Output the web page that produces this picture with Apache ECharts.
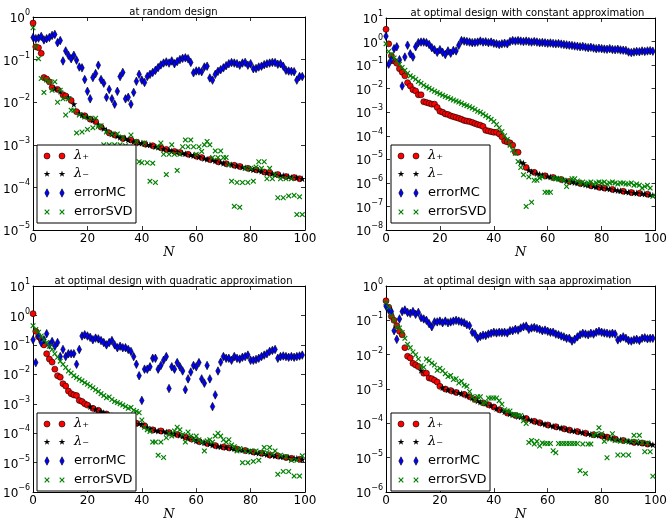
<!DOCTYPE html>
<html><head><meta charset="utf-8">
<script src="https://cdn.jsdelivr.net/npm/echarts@6/dist/echarts.min.js"></script>
<style>html,body{margin:0;padding:0;background:#fff}#c{width:670px;height:522px}</style>
</head><body><div id="c"></div>
<script>
const titles = ['at random design', 'at optimal design with constant approximation',
  'at optimal design with quadratic approximation', 'at optimal design with saa approximation'];
const xTicks = [0, 20, 40, 60, 80, 100];
const legendLabels = ['λ₊', 'λ₋', 'errorMC', 'errorSVD'];

// ---------- panel 1: random design ----------
const eig1 = [0.72,0.2,0.19,0.14,0.038,0.035,0.03,0.022,0.021,0.02,
 0.018,0.015,0.014,0.013,0.011,0.009,0.006,0.0055,0.005,0.0048,
 0.0045,0.004,0.0038,0.0035,0.003,0.0026,0.0024,0.0022,0.0019,0.0018,
 0.0017,0.0016,0.0015,0.0014,0.0014,0.0013,0.0013,0.0012,0.00115,0.0011,
 0.0011,0.00105,0.001,0.001,0.00095,0.0009,0.00088,0.00085,0.0008,0.00078,
 0.00075,0.00072,0.0007,0.00068,0.00066,0.00064,0.00062,0.0006,0.00058,0.00056,
 0.00054,0.00052,0.0005,0.00048,0.00046,0.00045,0.00044,0.00042,0.0004,0.00039,
 0.00037,0.00036,0.00035,0.00034,0.00033,0.00032,0.00031,0.0003,0.00029,0.00028,
 0.00027,0.00026,0.00026,0.00025,0.00024,0.00023,0.00022,0.00022,0.00021,0.0002,
 0.0002,0.00019,0.00019,0.00018,0.00018,0.00017,0.00017,0.00017,0.00016,0.00016];
const sign1 = '++++++++-+' + '-++-+-+--+' + '-+-+-+--+-' + '+--+--+-+-' + '-+--+--+-+' +
              '--+-+--+--' + '+-+--+--+-' + '-+--+-+--+' + '--+--+-+--' + '+--+--+-+-';
const mc1 = [0.33,0.31,0.32,0.35,0.29,0.31,0.33,0.37,0.39,0.25,
 0.28,0.093,0.16,0.126,0.105,0.126,0.097,0.067,0.064,0.034,
 0.018,0.012,0.038,0.047,0.074,0.034,0.028,0.013,0.02,0.012,
 0.009,0.018,0.04,0.05,0.012,0.013,0.009,0.017,0.031,0.045,
 0.033,0.029,0.04,0.045,0.05,0.056,0.065,0.075,0.083,0.088,
 0.083,0.093,0.08,0.09,0.1,0.107,0.11,0.105,0.086,0.049,
 0.054,0.054,0.052,0.067,0.07,0.037,0.033,0.045,0.053,0.058,
 0.064,0.072,0.08,0.085,0.083,0.08,0.074,0.083,0.086,0.074,
 0.08,0.061,0.062,0.067,0.07,0.076,0.08,0.083,0.086,0.085,
 0.078,0.08,0.07,0.056,0.054,0.053,0.052,0.033,0.04,0.04];
const svd1 = [0.56,0.2,0.105,0.036,0.017,0.033,0.03,0.019,0.03,0.01,
 0.019,0.012,0.005,0.012,0.0065,0.0065,0.0019,0.005,0.002,0.0045,
 0.0023,0.0042,0.0025,0.0042,0.0027,0.0028,0.001,0.002,0.001,0.0018,
 0.001,0.0018,0.001,0.0015,0.00095,0.0004,0.0017,0.0004,0.0012,0.0004,
 0.00038,0.0011,0.00038,0.00014,0.00037,0.00013,0.0009,0.0011,0.0006,0.0002,
 0.0006,0.001,0.0006,0.00025,0.0006,0.0009,0.0013,0.0009,0.0013,0.0009,
 0.0006,0.0009,0.0007,0.001,0.0012,0.001,0.0005,0.00072,0.0005,0.00072,
 0.0005,0.0005,0.00034,0.00014,0.000036,0.00013,0.000034,0.00013,0.00028,0.00013,
 0.00028,0.00014,0.0003,0.0004,0.00028,0.0004,0.00016,0.00028,0.00016,0.0002,
 0.000057,0.00016,0.000057,0.00016,0.000063,0.00016,0.000065,0.000023,0.00006,0.000023];

// ---------- panel 2: constant approximation ----------
const eig2 = [3.3,0.8,0.25,0.15,0.12,0.07,0.05,0.035,0.018,0.013,
 0.009,0.008,0.0055,0.0055,0.0028,0.0026,0.0024,0.0022,0.0022,0.0016,
 0.0011,0.001,0.00085,0.0008,0.0007,0.00065,0.0006,0.00055,0.0005,0.00045,
 0.00042,0.0004,0.00037,0.00033,0.0003,0.00028,0.00025,0.00017,0.00016,0.00015,
 0.00014,0.00014,0.00012,0.00009,0.00006,0.000055,0.00005,0.00004,0.00002,0.00002,
 7.5e-6,7e-6,4.5e-6,3.5e-6,3e-6,2.8e-6,2.5e-6,2.3e-6,2.1e-6,2e-6,
 1.9e-6,1.8e-6,1.7e-6,1.6e-6,1.5e-6,1.4e-6,1.3e-6,1.2e-6,1.15e-6,1.1e-6,
 1.05e-6,1e-6,9.5e-7,9e-7,8.5e-7,8e-7,7.6e-7,7.2e-7,6.8e-7,6.5e-7,
 6.2e-7,6e-7,5.8e-7,5.5e-7,5.3e-7,5e-7,4.8e-7,4.6e-7,4.4e-7,4.2e-7,
 4e-7,3.9e-7,3.8e-7,3.7e-7,3.6e-7,3.5e-7,3.4e-7,3.3e-7,3.1e-7,3e-7];
const sign2 = '++++++++++' + '++++++++++' + '++++++++++' + '++++++++++' + '++++++++++' +
              '--+--+---+' + '--+--+--+-' + '--+---+--+' + '-+--+---+-' + '-+--+--+--';
const mc2 = [1.7,0.11,0.17,0.5,0.6,0.17,0.013,0.22,0.7,0.3,
 0.22,0.6,0.9,0.95,0.95,0.9,0.75,0.55,0.45,0.35,
 0.45,0.35,0.28,0.4,0.32,0.42,0.4,0.7,1.1,1.05,
 1.0,0.95,0.9,0.92,0.95,1.05,0.95,0.98,0.9,0.95,
 0.85,0.8,0.75,0.8,0.85,0.8,1.0,1.1,1.05,1.1,
 1.05,1.0,1.05,1.0,0.95,1.0,0.95,0.9,0.92,0.88,
 0.85,0.87,0.83,0.8,0.82,0.78,0.75,0.72,0.7,0.68,
 0.65,0.63,0.6,0.62,0.58,0.55,0.57,0.53,0.5,0.52,
 0.5,0.48,0.47,0.5,0.46,0.45,0.47,0.44,0.43,0.42,
 0.36,0.34,0.36,0.38,0.37,0.4,0.38,0.4,0.41,0.39];
const svd2 = [0.8,0.38,0.28,0.2,0.15,0.11,0.08,0.06,0.045,0.035,
 0.03,0.025,0.02,0.017,0.014,0.012,0.0105,0.009,0.0078,0.0068,
 0.006,0.0053,0.0047,0.0042,0.0037,0.0033,0.003,0.0027,0.0024,0.0021,
 0.0019,0.0017,0.0015,0.0013,0.0011,0.001,0.00085,0.0007,0.0006,0.0005,
 0.0004,0.0003,0.00022,0.00015,0.0001,0.00007,0.00004,0.000025,0.000018,0.000008,
 4.5e-6,2.2e-6,1e-7,1.8e-6,1.5e-7,1.3e-6,1.3e-6,1.6e-6,1.8e-6,4e-7,
 4e-7,4e-7,1.6e-6,1.5e-6,1.5e-6,1.4e-6,1.3e-6,7e-7,1.2e-6,1.5e-6,
 1.5e-6,1.2e-6,1e-6,1.1e-6,9e-7,1e-6,1.1e-6,9e-7,1e-6,1.1e-6,
 1e-6,1.1e-6,9e-7,1e-6,1.1e-6,1e-6,9e-7,1e-6,1e-6,9e-7,
 9e-7,1e-6,8e-7,9e-7,8e-7,6e-7,7e-7,8e-7,6e-7,2.7e-7];

// ---------- panel 3: quadratic approximation ----------
const eig3 = [1.15,0.29,0.19,0.15,0.1,0.05,0.033,0.026,0.015,0.009,
 0.008,0.0048,0.004,0.0027,0.0022,0.002,0.0019,0.0013,0.0012,0.001,
 0.0009,0.0008,0.0007,0.00065,0.0006,0.00055,0.0005,0.00045,0.0004,0.00038,
 0.00036,0.00034,0.00032,0.0003,0.00028,0.00026,0.00025,0.00023,0.00022,0.00021,
 0.0002,0.00018,0.00016,0.00014,0.00013,0.000125,0.00012,0.00012,0.000115,0.00011,
 0.000105,0.0001,0.000095,0.00009,0.000085,0.00008,0.000075,0.00007,0.000065,0.00006,
 0.000055,0.000052,0.00005,0.000047,0.000045,0.000043,0.00004,0.000038,0.000036,0.000035,
 0.000034,0.000033,0.000032,0.000031,0.00003,0.000029,0.000028,0.000027,0.000026,0.000025,
 0.000024,0.000023,0.000022,0.000021,0.000021,0.00002,0.000019,0.000018,0.000018,0.000017,
 0.000017,0.000016,0.000016,0.000015,0.000015,0.000014,0.000014,0.000014,0.000013,0.000013];
const sign3 = '++++++++++' + '++++++++++' + '+-+-+--+-+' + '-+--+-+-+-' + '-+--+--+--' +
              '+--+--+-+-' + '-+--+--+--' + '+-+--+--+-' + '-+--+--+--' + '+--+-+--+-';
const mc3 = [0.15,0.025,0.2,0.12,0.15,0.24,0.1,0.13,0.09,0.12,
 0.04,0.07,0.04,0.05,0.05,0.05,0.022,0.07,0.2,0.22,
 0.2,0.18,0.15,0.17,0.16,0.14,0.12,0.1,0.12,0.14,
 0.1,0.08,0.09,0.08,0.08,0.07,0.06,0.04,0.022,0.009,
 0.0013,0.015,0.015,0.018,0.035,0.035,0.015,0.02,0.03,0.04,
 0.0033,0.018,0.015,0.025,0.018,0.013,0.003,0.007,0.012,0.02,
 0.018,0.025,0.007,0.005,0.02,0.007,0.0008,0.002,0.013,0.026,
 0.04,0.035,0.035,0.03,0.04,0.035,0.033,0.038,0.04,0.045,
 0.03,0.03,0.032,0.035,0.04,0.045,0.05,0.06,0.065,0.07,
 0.035,0.04,0.042,0.04,0.038,0.04,0.038,0.04,0.042,0.045];
const svd3 = [0.45,0.33,0.27,0.2,0.15,0.12,0.09,0.07,0.05,0.038,
 0.028,0.022,0.017,0.013,0.011,0.009,0.0078,0.0068,0.006,0.0052,
 0.0046,0.004,0.0035,0.003,0.0026,0.0022,0.0019,0.0016,0.0017,0.0014,
 0.0012,0.0011,0.001,0.0009,0.0008,0.0007,0.00075,0.0006,0.00055,0.0005,
 0.00028,0.00016,0.00013,0.000115,0.00005,0.00005,0.000018,0.00005,0.000015,0.00007,
 0.0001,0.00008,0.00012,0.00016,0.00013,0.00009,0.00005,0.00011,0.00008,0.00006,
 0.00008,0.00006,0.00005,0.000025,0.000055,0.00006,0.00005,0.00008,0.0001,0.00008,
 0.00006,0.00005,0.00006,0.00004,0.000035,0.000025,0.00003,0.00001,0.000025,0.00001,
 0.000025,0.000011,0.000025,0.000012,0.000022,0.000033,0.000022,0.000033,0.00002,0.000025,
 0.000004,0.000018,0.000005,0.000016,0.000005,0.000012,0.0000035,0.000012,0.0000035,0.000017];

// ---------- panel 4: saa approximation ----------
const eig4 = [0.37,0.24,0.13,0.1,0.07,0.048,0.038,0.016,0.009,0.008,
 0.0056,0.005,0.0045,0.0035,0.0029,0.0029,0.0021,0.002,0.0018,0.0016,
 0.0012,0.0011,0.001,0.00095,0.0009,0.00085,0.0008,0.00078,0.00074,0.0007,
 0.00065,0.0006,0.00055,0.0005,0.00045,0.00042,0.0004,0.00038,0.00035,0.00033,
 0.0003,0.00027,0.00025,0.00024,0.00022,0.0002,0.00019,0.00018,0.00017,0.00016,
 0.000155,0.00015,0.00014,0.00013,0.00012,0.000115,0.00011,0.000105,0.0001,0.000095,
 0.00009,0.000087,0.000083,0.00008,0.000077,0.000074,0.00007,0.000067,0.000064,0.000062,
 0.00006,0.000058,0.000056,0.000054,0.000052,0.00005,0.000048,0.000047,0.000046,0.000045,
 0.000044,0.000042,0.00004,0.000038,0.000037,0.000035,0.000034,0.000033,0.000032,0.000031,
 0.00003,0.000029,0.000028,0.000028,0.000027,0.000027,0.000026,0.000025,0.000025,0.000024];
const sign4 = '++++++++++' + '+++-++++++' + '+-+-+-+--+' + '-+-+--+-+-' + '+-+--+--+-' +
              '--+--+-+--' + '+--+--+-+-' + '-+--+--+--' + '+-+--+--+-' + '--+--+-+--';
const mc4 = [0.26,0.2,0.18,0.05,0.028,0.11,0.18,0.2,0.17,0.16,
 0.18,0.15,0.17,0.12,0.11,0.1,0.08,0.065,0.09,0.09,
 0.095,0.085,0.095,0.085,0.09,0.095,0.1,0.095,0.09,0.085,
 0.075,0.07,0.045,0.04,0.03,0.034,0.037,0.036,0.04,0.042,
 0.045,0.043,0.045,0.044,0.045,0.043,0.05,0.05,0.055,0.052,
 0.06,0.065,0.068,0.055,0.06,0.062,0.058,0.055,0.05,0.052,
 0.048,0.045,0.045,0.04,0.038,0.035,0.033,0.03,0.03,0.025,
 0.028,0.033,0.038,0.042,0.04,0.038,0.042,0.04,0.045,0.048,
 0.045,0.043,0.042,0.04,0.042,0.04,0.027,0.03,0.033,0.03,
 0.026,0.025,0.027,0.028,0.026,0.03,0.031,0.029,0.03,0.03];
const svd4 = [0.33,0.24,0.14,0.1,0.065,0.06,0.044,0.03,0.02,0.016,
 0.012,0.01,0.0075,0.0048,0.0043,0.0075,0.0067,0.0057,0.005,0.0035,
 0.004,0.0034,0.0028,0.0023,0.0025,0.0019,0.002,0.0015,0.0017,0.0013,
 0.0012,0.00085,0.0006,0.00048,0.0006,0.0006,0.00039,0.0004,0.00055,0.00055,
 0.00055,0.00055,0.00046,0.00036,0.00025,0.00023,0.00023,0.00018,0.00018,0.00017,
 0.00017,0.00012,0.0001,0.000028,0.000032,0.000025,0.00003,0.000022,0.000027,0.000026,
 0.000026,0.000026,0.000016,0.000014,0.000026,0.000026,0.000026,0.000026,0.000026,0.000026,
 0.000026,0.000026,0.0000042,0.000025,0.0000035,0.000025,0.000025,0.000045,0.00005,0.000075,
 0.00005,0.00003,0.00001,0.000035,0.00005,0.000032,0.000012,0.00003,0.000012,0.00003,
 0.000012,0.00003,0.000045,0.00003,0.000045,0.000028,0.000015,0.000027,0.000015,0.0000029];

const panels = [
  {eig: eig1, sign: sign1, mc: mc1, svd: svd1, ymin: 1e-5, ymax: 1},
  {eig: eig2, sign: sign2, mc: mc2, svd: svd2, ymin: 1e-8, ymax: 10},
  {eig: eig3, sign: sign3, mc: mc3, svd: svd3, ymin: 1e-6, ymax: 10},
  {eig: eig4, sign: sign4, mc: mc4, svd: svd4, ymin: 1e-6, ymax: 1}
];

// layout
const gridBoxes = [
  {left: 32, top: 17, width: 273, height: 213},
  {left: 386, top: 18, width: 273, height: 212},
  {left: 32, top: 286, width: 273, height: 212},
  {left: 386, top: 286, width: 273, height: 212}
];

const FONT = 'DejaVu Sans';
// marker outlines (unit coordinates)
const STAR_PTS = [[0,-1],[0.224,-0.309],[0.951,-0.309],[0.363,0.118],[0.588,0.809],[0,0.382],[-0.588,0.809],[-0.363,0.118],[-0.951,-0.309],[-0.224,-0.309]];
const DIAM_PTS = [[0,-1],[1,0],[0,1],[-1,0]];
const X_PTS = [[-1,-0.7],[-0.7,-1],[0,-0.3],[0.7,-1],[1,-0.7],[0.3,0],[1,0.7],[0.7,1],[0,0.3],[-0.7,1],[-1,0.7],[-0.3,0]];
const toPath = pts => 'path://' + pts.map((p, i) => (i ? 'L' : 'M') + p[0] + ',' + p[1]).join(' ') + ' Z';

const styles = [
  {symbol: 'circle', size: 6, color: '#ff0000', border: '#000', bw: 0.6},
  {symbol: toPath(STAR_PTS), size: 7, color: '#000', border: '#000', bw: 0},
  {symbol: toPath(DIAM_PTS), size: [4.5, 8.5], color: '#0000ff', border: '#000', bw: 0.6},
  {symbol: toPath(X_PTS), size: 5.5, color: '#008000', border: '#008000', bw: 0}
];
const legendHalf = [null, [3.5, 3.5], [2.2, 4.2], [2.7, 2.7]];

const grid = [], xAxis = [], yAxis = [], series = [], title = [], graphic = [];
const supMinus = s => s.replace('-', '\u2212');
const markerPts = [null, STAR_PTS, DIAM_PTS, X_PTS];

panels.forEach((p, k) => {
  const g = gridBoxes[k];
  grid.push({left: g.left, top: g.top, width: g.width, height: g.height, containLabel: false});
  const tick = {show: true, inside: true, length: 4, lineStyle: {color: '#000', width: 0.8}};
  const line = {show: true, onZero: false, lineStyle: {color: '#000', width: 1}};
  xAxis.push({type: 'value', gridIndex: k, min: 0, max: 100, interval: 20, position: 'bottom',
    axisLine: line, axisTick: tick, splitLine: {show: false},
    axisLabel: {color: '#000', fontFamily: FONT, fontSize: 12, margin: 3},
    name: 'N', nameLocation: 'middle', nameGap: 11,
    nameTextStyle: {fontFamily: 'DejaVu Serif', fontStyle: 'italic', fontSize: 13, color: '#000'}});
  xAxis.push({type: 'value', gridIndex: k, min: 0, max: 100, interval: 20, position: 'top',
    axisLine: line, axisTick: tick, axisLabel: {show: false}, splitLine: {show: false}});
  yAxis.push({type: 'log', logBase: 10, gridIndex: k, min: p.ymin, max: p.ymax, interval: 1,
    position: 'left', axisLine: line, axisTick: tick, splitLine: {show: false},
    axisLabel: {color: '#000', margin: 3, showMinLabel: true, showMaxLabel: true,
      formatter: v => '{b|10}{s|' + supMinus(String(Math.round(Math.log10(v)))) + '}',
      rich: {b: {fontFamily: FONT, fontSize: 12, color: '#000', verticalAlign: 'bottom', lineHeight: 16},
             s: {fontFamily: FONT, fontSize: 8, color: '#000', verticalAlign: 'top', lineHeight: 16}}}});
  yAxis.push({type: 'log', logBase: 10, gridIndex: k, min: p.ymin, max: p.ymax, interval: 1,
    position: 'right', axisLine: line, axisTick: tick, splitLine: {show: false}, axisLabel: {show: false}});

  const plus = [], minus = [], mc = [], svd = [];
  p.eig.forEach((v, i) => { (p.sign[i] === '-' ? minus : plus).push([i, v]); });
  p.mc.forEach((v, i) => mc.push([i, v]));
  p.svd.forEach((v, i) => svd.push([i, v]));
  [plus, minus, mc, svd].forEach((d, j) => {
    const s = styles[j];
    series.push({type: 'scatter', xAxisIndex: 2 * k, yAxisIndex: 2 * k, data: d,
      symbol: s.symbol, symbolSize: s.size, z: 2 + j,
      itemStyle: {color: s.color, borderColor: s.border, borderWidth: s.bw, opacity: 1},
      emphasis: {disabled: true}, animation: false});
  });

  title.push({text: titles[k], left: g.left + g.width / 2, textAlign: 'center', top: g.top - 15,
    textStyle: {fontFamily: FONT, fontSize: 10, fontWeight: 'normal', color: '#000'}});

  // legend box (matplotlib style, lower-left inside axes)
  const bx = g.left + 5, bw = 99, bh = 78, by = g.top + g.height - 7 - bh;
  graphic.push({type: 'rect', shape: {x: bx, y: by, width: bw, height: bh},
    style: {fill: '#fff', stroke: '#000', lineWidth: 1}, z: 100});
  const rows = [11, 29, 48, 67];
  rows.forEach((ry, j) => {
    const cy = by + ry;
    [bx + 10, bx + 25].forEach(cx => {
      if (j === 0) {
        graphic.push({type: 'circle', shape: {cx: cx, cy: cy, r: 3},
          style: {fill: '#ff0000', stroke: '#000', lineWidth: 0.6}, z: 101});
      } else {
        const h = legendHalf[j];
        graphic.push({type: 'polygon',
          shape: {points: markerPts[j].map(q => [cx + q[0] * h[0], cy + q[1] * h[1]])},
          style: {fill: styles[j].color, stroke: j === 2 ? '#000' : null, lineWidth: j === 2 ? 0.6 : 0}, z: 101});
      }
    });
    const isLam = j < 2;
    graphic.push({type: 'text', x: bx + 37, y: cy, z: 101,
      style: {text: legendLabels[j], fill: '#000', verticalAlign: 'middle', align: 'left',
        fontFamily: isLam ? 'DejaVu Serif' : FONT, fontStyle: isLam ? 'italic' : 'normal', fontSize: 13}});
  });
});

const chart = echarts.init(document.getElementById('c'), null, {renderer: 'canvas'});
chart.setOption({animation: false, backgroundColor: '#fff', title, grid, xAxis, yAxis, series, graphic});
</script></body></html>
